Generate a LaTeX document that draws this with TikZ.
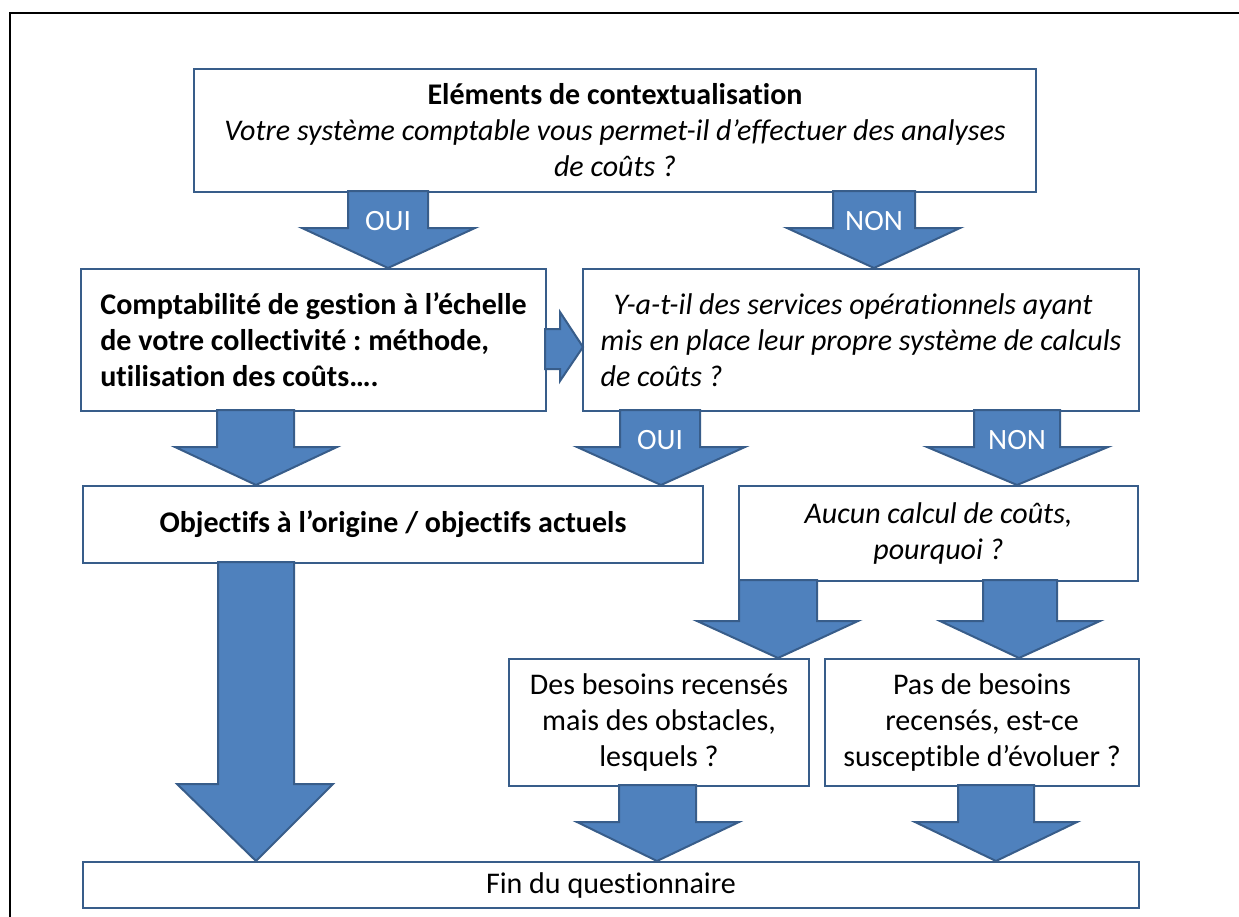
\documentclass[tikz,border=0pt]{standalone}
\usepackage{fontspec}
\setmainfont{Carlito}[Ligatures=NoCommon]
\frenchspacing
\definecolor{afill}{RGB}{79,129,189}
\definecolor{aline}{RGB}{56,93,138}
\tikzset{
  box/.style={draw=aline, line width=2pt, fill=white, anchor=north west, inner sep=0pt, align=center, font=\fontsize{30}{36}\selectfont},
  barrow/.style={fill=afill, draw=aline, line width=2pt, line join=miter},
  alabel/.style={text=white, font=\fontsize{29.5}{36}\selectfont, inner sep=0pt}
}
% block arrow pointing down: shaft l, shaft r, head l, head r, top y, head y, tip x, tip y
\newcommand\bdown[8]{\draw[barrow] (#1,#5) -- (#2,#5) -- (#2,#6) -- (#4,#6) -- (#7,#8) -- (#3,#6) -- (#1,#6) -- cycle;}
\begin{document}
\begin{tikzpicture}[x=1pt,y=-1pt]
\useasboundingbox (0,0) rectangle (1239,916);
\clip (0,0) rectangle (1239,916);
\draw[line width=1.5pt] (10,13) rectangle (1260,940);

\node[box, minimum width=842pt, minimum height=123pt] (b1) at (193,68)
  {\textbf{Eléments de contextualisation}\\ \textit{Votre système comptable vous permet-il d’effectuer des analyses}\\ \textit{de coûts ?}};
\node[box, minimum width=465pt, minimum height=142pt, align=left] (b2) at (80,268)
  {\textbf{Comptabilité de gestion à l’échelle}\\ \textbf{de votre collectivité : méthode,}\\ \textbf{utilisation des coûts….}};
\node[box, minimum width=556pt, minimum height=142pt, align=left] (b3) at (582,268)
  {\hspace*{13pt}\textit{Y-a-t-il des services opérationnels ayant}\\ \textit{mis en place leur propre système de calculs}\\ \textit{de coûts ?}};
\node[box, minimum width=620pt, minimum height=77pt] (b4) at (82,485)
  {\textbf{Objectifs à l’origine / objectifs actuels}};
\node[box, minimum width=399pt, minimum height=95pt] (b5) at (738,485)
  {\textit{Aucun calcul de coûts,}\\ \textit{pourquoi ?}};
\node[box, minimum width=300pt, minimum height=127pt] (b6) at (508,658)
  {Des besoins recensés\\ mais des obstacles,\\ lesquels ?};
\node[box, minimum width=314pt, minimum height=127pt] (b7) at (824,658)
  {Pas de besoins\\ recensés, est-ce\\ susceptible d’évoluer ?};
\node[box, minimum width=1056pt, minimum height=46pt] (b8) at (82,861)
  {Fin du questionnaire};

\bdown{348}{428}{302}{475}{191}{228}{388}{268}
\bdown{833}{915}{787}{960}{191}{228}{874}{268}
\draw[barrow] (545,329) -- (560,329) -- (560,312) -- (583,347) -- (560,381) -- (560,369) -- (545,369) -- cycle;
\bdown{217}{294}{175}{337}{410}{447}{256}{485}
\bdown{620}{700}{577}{745}{410}{447}{661}{485}
\bdown{974}{1060}{927}{1108}{410}{447}{1017}{485}
\bdown{218}{294}{177}{333}{562}{784}{256}{861}
\bdown{739}{817}{697}{858}{580}{621}{778}{658}
\bdown{983}{1057}{940}{1100}{580}{621}{1019}{658}
\bdown{619}{696}{577}{739}{785}{822}{657}{861}
\bdown{958}{1034}{915}{1077}{785}{822}{996}{861}

\node[alabel] (l1) at (388,221) {OUI};
\node[alabel] (l2) at (874,221) {NON};
\node[alabel] (l3) at (660,440) {OUI};
\node[alabel] (l4) at (1017,440) {NON};
\end{tikzpicture}
\end{document}
